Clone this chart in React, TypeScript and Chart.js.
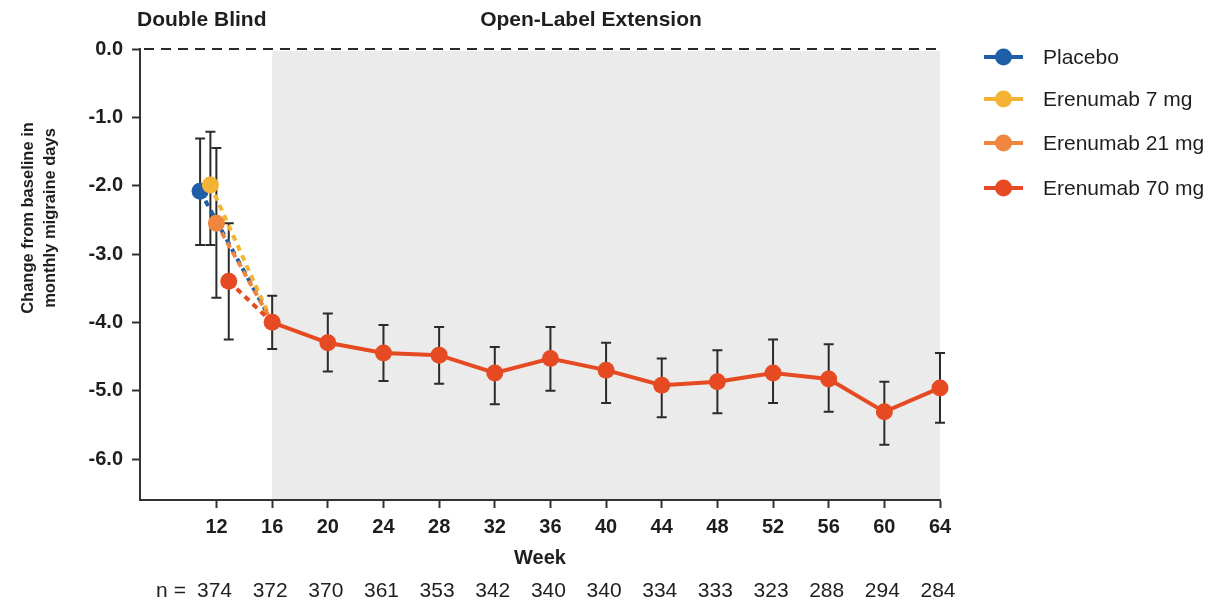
import { useEffect, useRef } from "react";
import { Chart, registerables } from "chart.js";

Chart.register(...registerables);

const FONT = "'Liberation Sans', Arial, Helvetica, sans-serif";

const seriesLabels = ["Placebo", "Erenumab 7 mg", "Erenumab 21 mg", "Erenumab 70 mg"];
const seriesColors = ["#1f5fa8", "#f5b335", "#ee8640", "#e64a22"];

// Double-blind end points (week ~12), one per group
const dbWeeks = [10.82, 11.56, 11.99, 12.88];
const dbMeans = [-2.08, -1.99, -2.55, -3.4];
const dbUpper = [-1.31, -1.21, -1.45, -2.55];
const dbLower = [-2.87, -2.87, -3.64, -4.25];

// Open-label extension (all on Erenumab 70 mg)
const oleWeeks = [16, 20, 24, 28, 32, 36, 40, 44, 48, 52, 56, 60, 64];
const oleMeans = [-4.0, -4.3, -4.45, -4.48, -4.74, -4.53, -4.7, -4.92, -4.87, -4.74, -4.83, -5.31, -4.96];
const oleUpper = [-3.61, -3.87, -4.04, -4.07, -4.36, -4.07, -4.3, -4.53, -4.41, -4.25, -4.32, -4.87, -4.45];
const oleLower = [-4.39, -4.72, -4.86, -4.9, -5.2, -5.0, -5.18, -5.39, -5.33, -5.18, -5.31, -5.79, -5.47];

const xTicks = [12, 16, 20, 24, 28, 32, 36, 40, 44, 48, 52, 56, 60, 64];
const yTicks = [0, -1, -2, -3, -4, -5, -6];
const nValues = [374, 372, 370, 361, 353, 342, 340, 340, 334, 333, 323, 288, 294, 284];

const phaseLabels = ["Double Blind", "Open-Label Extension"];
const yTitleLines = ["Change from baseline in", "monthly migraine days"];
const xTitle = "Week";

export default function App() {
  const ref = useRef<HTMLCanvasElement | null>(null);

  useEffect(() => {
    if (!ref.current) return;

    const datasets: any[] = [];
    for (let i = 0; i < 3; i++) {
      datasets.push({
        label: seriesLabels[i],
        data: [
          { x: dbWeeks[i], y: dbMeans[i] },
          { x: oleWeeks[0], y: oleMeans[0] },
        ],
        borderColor: seriesColors[i],
        backgroundColor: seriesColors[i],
        borderWidth: 4,
        borderDash: [6, 5],
        pointRadius: [8.5, 0],
        pointBorderWidth: 0,
        clip: false,
        order: 3 - i,
      });
    }
    datasets.push({
      label: seriesLabels[3],
      data: [{ x: dbWeeks[3], y: dbMeans[3] }, ...oleWeeks.map((w, k) => ({ x: w, y: oleMeans[k] }))],
      borderColor: seriesColors[3],
      backgroundColor: seriesColors[3],
      borderWidth: 4,
      pointRadius: 8.5,
      pointBorderWidth: 0,
      clip: false,
      order: 0,
      segment: {
        borderDash: (ctx: any) => (ctx.p0DataIndex === 0 ? [6, 5] : undefined),
      },
    });

    const decor = {
      id: "decor",
      beforeDraw(chart: any) {
        const { ctx, chartArea, scales } = chart;
        const x = scales.x;
        ctx.save();
        ctx.fillStyle = "#ebebeb";
        const x0 = x.getPixelForValue(16);
        const x1 = x.getPixelForValue(64);
        ctx.fillRect(x0, chartArea.top + 2, x1 - x0, chartArea.bottom - chartArea.top - 2);
        ctx.restore();
      },
      beforeDatasetsDraw(chart: any) {
        const { ctx, chartArea, scales } = chart;
        const x = scales.x;
        const y = scales.y;
        ctx.save();
        // zero reference line
        ctx.strokeStyle = "#2a2a2a";
        ctx.lineWidth = 2;
        ctx.setLineDash([10, 7]);
        const y0 = y.getPixelForValue(0);
        ctx.beginPath();
        ctx.moveTo(chartArea.left + 4, y0);
        ctx.lineTo(chartArea.right, y0);
        ctx.stroke();
        ctx.setLineDash([]);
        // error bars
        const bars: [number, number, number][] = [];
        for (let i = 0; i < dbWeeks.length; i++) bars.push([dbWeeks[i], dbUpper[i], dbLower[i]]);
        for (let i = 0; i < oleWeeks.length; i++) bars.push([oleWeeks[i], oleUpper[i], oleLower[i]]);
        ctx.strokeStyle = "#2b2b2b";
        ctx.lineWidth = 2;
        for (const [w, hi, lo] of bars) {
          const px = x.getPixelForValue(w);
          const pHi = y.getPixelForValue(hi);
          const pLo = y.getPixelForValue(lo);
          ctx.beginPath();
          ctx.moveTo(px, pHi);
          ctx.lineTo(px, pLo);
          ctx.moveTo(px - 5, pHi);
          ctx.lineTo(px + 5, pHi);
          ctx.moveTo(px - 5, pLo);
          ctx.lineTo(px + 5, pLo);
          ctx.stroke();
        }
        ctx.restore();
      },
      afterDraw(chart: any) {
        const { ctx, chartArea, scales } = chart;
        const x = scales.x;
        ctx.save();
        ctx.fillStyle = "#1e1e1e";
        // phase headers
        ctx.font = `bold 21px ${FONT}`;
        ctx.textBaseline = "middle";
        ctx.textAlign = "left";
        ctx.fillText(phaseLabels[0], 137, 20);
        ctx.textAlign = "center";
        ctx.fillText(phaseLabels[1], 591, 20);
        // y title
        ctx.save();
        ctx.font = `bold 16.5px ${FONT}`;
        ctx.translate(28, 218);
        ctx.rotate(-Math.PI / 2);
        ctx.textAlign = "center";
        ctx.fillText(yTitleLines[0], 0, 0);
        ctx.fillText(yTitleLines[1], 0, 22);
        ctx.restore();
        // x title
        ctx.font = `bold 20px ${FONT}`;
        ctx.textAlign = "center";
        ctx.fillText(xTitle, (chartArea.left + chartArea.right) / 2, 558);
        // n row
        ctx.font = `21px ${FONT}`;
        ctx.fillText("n =", 171, 591);
        for (let i = 0; i < xTicks.length; i++) {
          ctx.fillText(String(nValues[i]), x.getPixelForValue(xTicks[i]) - 2, 591);
        }
        // legend
        const rows = [57, 99, 143, 188];
        for (let i = 0; i < seriesLabels.length; i++) {
          const ry = rows[i];
          ctx.strokeStyle = seriesColors[i];
          ctx.lineWidth = 4;
          ctx.beginPath();
          ctx.moveTo(984, ry);
          ctx.lineTo(1023, ry);
          ctx.stroke();
          ctx.fillStyle = seriesColors[i];
          ctx.beginPath();
          ctx.arc(1003.5, ry, 8.5, 0, Math.PI * 2);
          ctx.fill();
          ctx.fillStyle = "#1e1e1e";
          ctx.font = `21px ${FONT}`;
          ctx.textAlign = "left";
          ctx.fillText(seriesLabels[i], 1043, ry + 1);
        }
        ctx.restore();
      },
    };

    const chart = new Chart(ref.current, {
      type: "line",
      data: { datasets },
      options: {
        animation: false,
        responsive: false,
        layout: { padding: { left: 0, top: 49, right: 286, bottom: 0 } },
        plugins: { legend: { display: false }, tooltip: { enabled: false } },
        scales: {
          x: {
            type: "linear",
            min: 6.5,
            max: 64,
            afterBuildTicks: (s: any) => {
              s.ticks = xTicks.map((v) => ({ value: v }));
            },
            afterFit: (s: any) => {
              s.height = 103;
            },
            grid: { drawOnChartArea: false, tickLength: 8, tickColor: "#333", tickWidth: 2 },
            border: { color: "#333", width: 2 },
            ticks: {
              color: "#1e1e1e",
              font: { family: FONT, size: 20, weight: "bold" },
              padding: 7,
              maxRotation: 0,
              autoSkip: false,
            },
          },
          y: {
            type: "linear",
            min: -6.6,
            max: 0,
            afterBuildTicks: (s: any) => {
              s.ticks = yTicks.map((v) => ({ value: v }));
            },
            afterFit: (s: any) => {
              s.width = 140;
            },
            grid: { drawOnChartArea: false, tickLength: 8, tickColor: "#333", tickWidth: 2 },
            border: { color: "#333", width: 2 },
            ticks: {
              color: "#1e1e1e",
              font: { family: FONT, size: 20, weight: "bold" },
              padding: 9,
              callback: (v: any) => Number(v).toFixed(1),
            },
          },
        },
      },
      plugins: [decor],
    } as any);

    return () => chart.destroy();
  }, []);

  return (
    <div style={{ position: "absolute", left: 0, top: 0, width: 1226, height: 603, background: "#fff" }}>
      <canvas ref={ref} width={1226} height={603} />
    </div>
  );
}
